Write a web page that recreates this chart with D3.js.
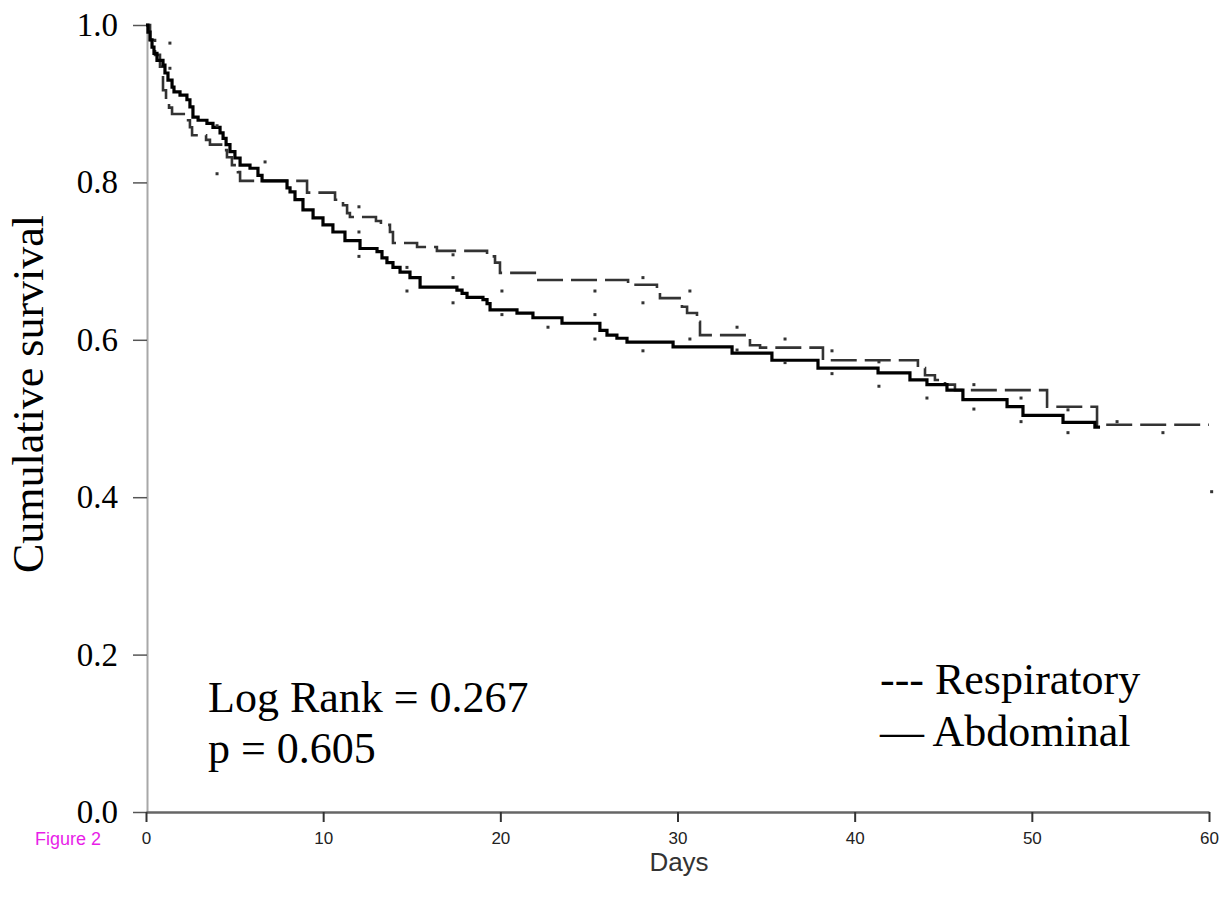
<!DOCTYPE html>
<html>
<head>
<meta charset="utf-8">
<script src="https://cdn.jsdelivr.net/npm/d3@7/dist/d3.min.js"></script>
<style>
  body { margin: 0; background: #fff; }
  svg { display: block; }
</style>
</head>
<body>
<svg id="chart" width="1225" height="905"></svg>
<script>
//-----------------------------------------------------//
// Data: [day, cumulative survival] after each drop

const abdominal = [
  [0, 1.0], [0.11, 0.991], [0.23, 0.981], [0.34, 0.972], [0.45, 0.964], [0.62, 0.955],
  [0.96, 0.949], [1.07, 0.939], [1.24, 0.930], [1.47, 0.921], [1.58, 0.915], [1.92, 0.911],
  [2.31, 0.905], [2.48, 0.896], [2.65, 0.883], [2.94, 0.879], [3.44, 0.875], [3.78, 0.870],
  [4.18, 0.863], [4.35, 0.856], [4.52, 0.848], [4.74, 0.839], [5.02, 0.831], [5.31, 0.822],
  [5.87, 0.818], [6.32, 0.809], [6.55, 0.802], [7.96, 0.793], [8.13, 0.788], [8.41, 0.778],
  [8.86, 0.765], [9.43, 0.755], [9.99, 0.746], [10.55, 0.737], [11.23, 0.726], [12.08, 0.716],
  [13.04, 0.712], [13.32, 0.704], [13.60, 0.698], [13.94, 0.692], [14.34, 0.686], [14.90, 0.679],
  [15.47, 0.667], [17.55, 0.663], [17.84, 0.659], [18.12, 0.654], [19.02, 0.651], [19.25, 0.646],
  [19.42, 0.638], [20.94, 0.634], [21.84, 0.628], [23.48, 0.621], [25.62, 0.612], [26.02, 0.606],
  [26.58, 0.602], [27.15, 0.597], [29.75, 0.591], [33.08, 0.583], [35.33, 0.574], [37.93, 0.564],
  [41.32, 0.558], [43.12, 0.549], [44.08, 0.543], [45.21, 0.536], [46.11, 0.524], [48.60, 0.515],
  [49.50, 0.504], [51.76, 0.495], [53.56, 0.489], [53.85, 0.489]
];

const respiratory = [
  [0, 1.0], [0.23, 0.981], [0.51, 0.962], [0.79, 0.947], [0.96, 0.917], [1.13, 0.905],
  [1.30, 0.895], [1.47, 0.887], [2.26, 0.879], [2.48, 0.870], [2.60, 0.860], [3.39, 0.854],
  [3.61, 0.848], [4.35, 0.841], [4.57, 0.832], [4.85, 0.822], [5.19, 0.813], [5.31, 0.802],
  [9.09, 0.787], [10.67, 0.778], [11.12, 0.771], [11.35, 0.761], [11.51, 0.756], [12.98, 0.751],
  [13.26, 0.746], [13.77, 0.737], [13.94, 0.723], [15.30, 0.718], [16.42, 0.713], [19.25, 0.706],
  [19.70, 0.698], [19.98, 0.685], [22.07, 0.676], [27.21, 0.670], [28.84, 0.661], [29.01, 0.653],
  [30.25, 0.642], [30.54, 0.634], [31.10, 0.623], [31.27, 0.606], [34.09, 0.593], [34.66, 0.590],
  [38.21, 0.574], [43.57, 0.564], [43.97, 0.555], [44.53, 0.549], [45.10, 0.543], [45.66, 0.536],
  [50.86, 0.515], [53.68, 0.492], [60, 0.492]
];

// isolated censoring dots
const censored = [
  [1.35, 0.977], [1.35, 0.945], [4.01, 0.872], [4.01, 0.811], [6.72, 0.826],
  [12.02, 0.769], [12.02, 0.737], [12.02, 0.706], [14.73, 0.692], [14.73, 0.662],
  [17.33, 0.708], [17.33, 0.679], [17.33, 0.647], [20.09, 0.662], [20.09, 0.632],
  [22.69, 0.616], [25.34, 0.662], [25.34, 0.632], [25.34, 0.601], [28.05, 0.679],
  [28.05, 0.647], [28.05, 0.586], [30.70, 0.662], [30.70, 0.601], [33.36, 0.616],
  [33.36, 0.587], [36.07, 0.601], [36.07, 0.571], [38.72, 0.586], [38.72, 0.557],
  [41.37, 0.572], [41.37, 0.541], [44.08, 0.526], [46.73, 0.543], [46.73, 0.512],
  [49.39, 0.526], [49.39, 0.496], [52.04, 0.511], [52.04, 0.482], [54.81, 0.496],
  [57.40, 0.482], [60.15, 0.407]
];

const xTicks = [0, 10, 20, 30, 40, 50, 60];
const yTicks = [0, 0.2, 0.4, 0.6, 0.8, 1.0];

//-----------------------------------------------------//

const svg = d3.select("#chart");

const x = d3.scaleLinear().domain([0, 60]).range([146, 1209]);
const y = d3.scaleLinear().domain([0, 1]).range([812, 25]);

const serif = "'Liberation Serif', 'Times New Roman', serif";
const sans = "'Liberation Sans', Arial, sans-serif";

// y axis (grey, serif labels)
const yAxis = svg.append("g")
  .attr("transform", "translate(147,0)")
  .call(d3.axisLeft(y).tickValues(yTicks).tickFormat(d3.format(".1f")).tickSize(14).tickSizeOuter(0));
yAxis.select(".domain").attr("stroke", "#a8a8a8").attr("stroke-width", 2);
yAxis.selectAll(".tick line").attr("stroke", "#555").attr("stroke-width", 1.5);
yAxis.selectAll(".tick text")
  .attr("x", -29)
  .attr("font-family", serif)
  .attr("font-size", 33)
  .attr("fill", "#000");

// x axis (dark, small sans labels)
const xAxis = svg.append("g")
  .attr("transform", "translate(0,812)")
  .call(d3.axisBottom(x).tickValues(xTicks).tickSize(10).tickSizeOuter(0));
xAxis.select(".domain").attr("stroke", "#666").attr("stroke-width", 2.5);
xAxis.selectAll(".tick line").attr("stroke", "#333").attr("stroke-width", 2);
xAxis.selectAll(".tick text")
  .attr("y", 20)
  .attr("font-family", sans)
  .attr("font-size", 17)
  .attr("fill", "#222");

// step lines
const line = d3.line()
  .x(d => x(d[0]))
  .y(d => y(d[1]))
  .curve(d3.curveStepAfter);

svg.append("path")
  .datum(respiratory)
  .attr("d", line)
  .attr("fill", "none")
  .attr("stroke", "#333")
  .attr("stroke-width", 2.6)
  .attr("stroke-dasharray", "26,8");

svg.append("path")
  .datum(abdominal)
  .attr("d", line)
  .attr("fill", "none")
  .attr("stroke", "#000")
  .attr("stroke-width", 3.2);

svg.append("g").selectAll("rect")
  .data(censored)
  .enter().append("rect")
  .attr("x", d => x(d[0]) - 1.5)
  .attr("y", d => y(d[1]) - 1.5)
  .attr("width", 3)
  .attr("height", 3)
  .attr("fill", "#333");

// titles & annotations
svg.append("text")
  .attr("transform", "translate(43,394) rotate(-90)")
  .attr("text-anchor", "middle")
  .attr("font-family", serif)
  .attr("font-size", 44)
  .text("Cumulative survival");

svg.append("text")
  .attr("x", 679).attr("y", 871)
  .attr("text-anchor", "middle")
  .attr("font-family", sans)
  .attr("font-size", 26)
  .attr("fill", "#333")
  .text("Days");

svg.append("text")
  .attr("x", 35).attr("y", 845)
  .attr("font-family", sans)
  .attr("font-size", 18)
  .attr("fill", "#e81ee8")
  .text("Figure 2");

svg.append("text")
  .attr("x", 208).attr("y", 712)
  .attr("font-family", serif)
  .attr("font-size", 44)
  .text("Log Rank = 0.267");

svg.append("text")
  .attr("x", 208).attr("y", 763)
  .attr("font-family", serif)
  .attr("font-size", 44)
  .text("p = 0.605");

svg.append("text")
  .attr("x", 880).attr("y", 694)
  .attr("font-family", serif)
  .attr("font-size", 44)
  .text("--- Respiratory");

svg.append("text")
  .attr("x", 880).attr("y", 746)
  .attr("font-family", serif)
  .attr("font-size", 44)
  .text("\u2014 Abdominal");
</script>
</body>
</html>
